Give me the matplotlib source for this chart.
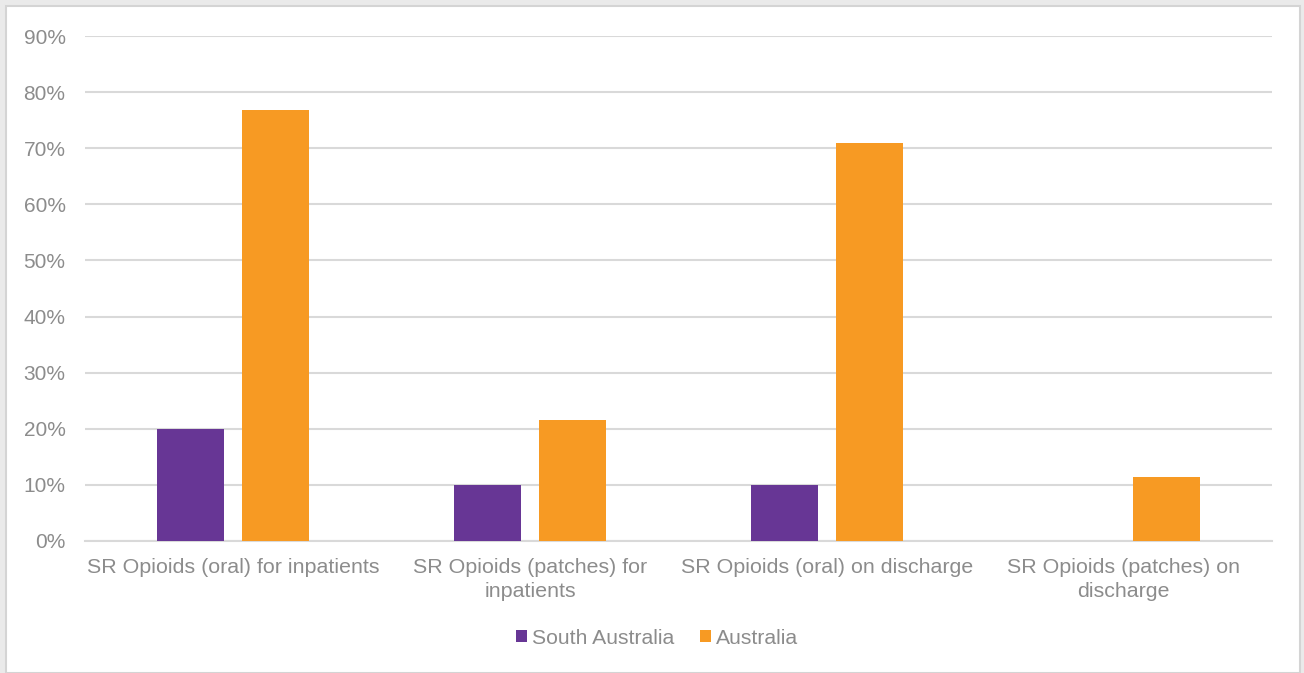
import matplotlib.pyplot as plt
from matplotlib.patches import Rectangle
import numpy as np

# Data
categories = ['SR Opioids (oral) for inpatients', 'SR Opioids (patches) for\ninpatients',
              'SR Opioids (oral) on discharge', 'SR Opioids (patches) on\ndischarge']
south_australia = [20.0, 10.0, 10.0, 0.0]
australia = [76.8, 21.6, 70.9, 11.4]
series_names = ['South Australia', 'Australia']

purple = '#673695'
orange = '#F79A23'
text_grey = '#8C8C8C'
grid_grey = '#D9D9D9'

plt.rcParams['font.family'] = ['Liberation Sans', 'DejaVu Sans']

fig = plt.figure(figsize=(13.04, 6.73), dpi=100, facecolor='#EAEAEA')
# white panel with thin border
fig.patches.append(Rectangle((6 / 1304, 0), 1294 / 1304, 667 / 673, transform=fig.transFigure,
                             facecolor='white', edgecolor='#D4D4D4', linewidth=1.5, zorder=-5))

ax = fig.add_axes([85 / 1304, 1 - 541 / 673, 1187 / 1304, 505 / 673])
ax.set_facecolor('none')
ax.set_zorder(2)

x = np.arange(len(categories))
width = 0.226
offset = 0.143
ax.bar(x - offset, south_australia, width, color=purple, label=series_names[0], zorder=3)
ax.bar(x + offset, australia, width, color=orange, label=series_names[1], zorder=3)

ax.set_xlim(-0.5, len(categories) - 0.5)
ax.set_ylim(0, 90)
ax.set_yticks(np.arange(0, 91, 10))
ax.set_yticklabels([f'{v}%' for v in range(0, 91, 10)])
ax.set_xticks(x)
ax.set_xticklabels(categories, linespacing=1.32)

ax.grid(axis='y', color=grid_grey, linewidth=1.5, zorder=0)
for s in ['top', 'right', 'left']:
    ax.spines[s].set_visible(False)
ax.spines['bottom'].set_color(grid_grey)
ax.spines['bottom'].set_linewidth(1.5)
ax.tick_params(axis='y', length=0, labelsize=15, labelcolor=text_grey, pad=14)
ax.tick_params(axis='x', length=0, labelsize=15.4, labelcolor=text_grey, pad=12.5)

leg = fig.legend(loc='center', bbox_to_anchor=(657 / 1304, 1 - 638 / 673), ncol=2, frameon=False,
                 fontsize=15.2, handlelength=0.52, handleheight=0.52, handletextpad=0.2,
                 columnspacing=1.25)
for t in leg.get_texts():
    t.set_color(text_grey)

plt.savefig('out.png', dpi=100, facecolor=fig.get_facecolor())
